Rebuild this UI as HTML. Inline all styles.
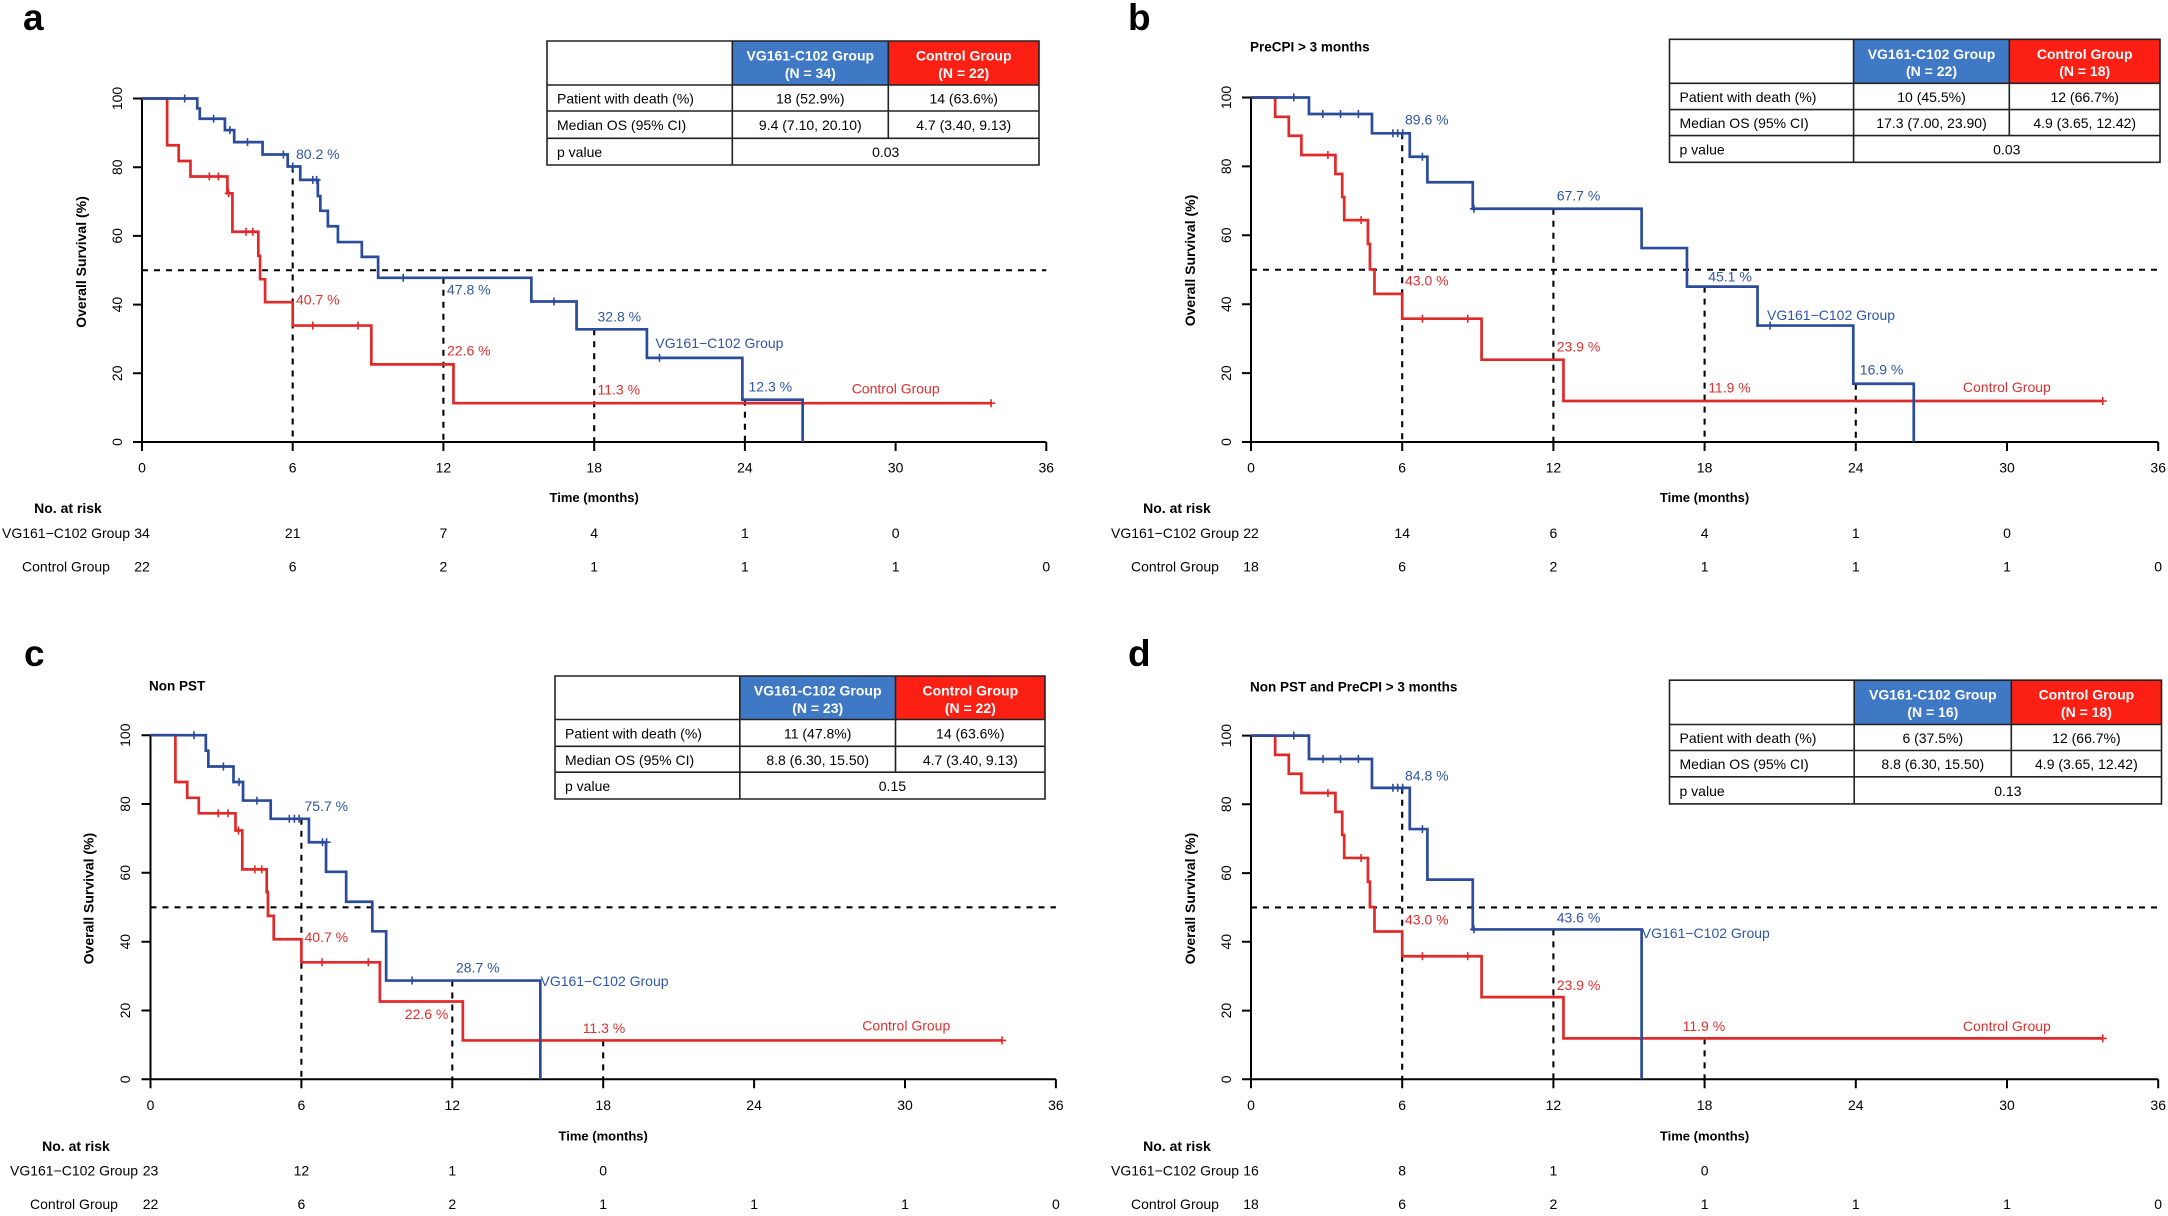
<!DOCTYPE html>
<html><head><meta charset="utf-8"><style>
html,body{margin:0;padding:0;background:#fff;}
svg{display:block}
text{font-family:"Liberation Sans",Arial,sans-serif;font-size:14px;fill:#000}
.b{font-weight:bold}
.m{text-anchor:middle}
.e{text-anchor:end}
.tb{fill:#2f56a6}
.tr{fill:#de2f2f}
.wh{fill:#fff;font-weight:bold;text-anchor:middle}
.lt{font-size:37px;font-weight:bold}
.sub{font-size:13.5px;font-weight:bold}
.ax{fill:none;stroke:#000;stroke-width:2}
.dash{fill:none;stroke:#000;stroke-width:2.1;stroke-dasharray:6 6}
.cb{fill:none;stroke:#2b4c9b;stroke-width:2.7;vector-effect:non-scaling-stroke;stroke-linejoin:miter}
.cr{fill:none;stroke:#e02a2a;stroke-width:2.7;vector-effect:non-scaling-stroke;stroke-linejoin:miter}
.kb{fill:none;stroke:#2b4c9b;stroke-width:1.6}
.kr{fill:none;stroke:#e02a2a;stroke-width:1.6}
.tl{fill:none;stroke:#222;stroke-width:1.6}
</style></head><body>
<svg width="2168" height="1216" viewBox="0 0 2168 1216" xmlns="http://www.w3.org/2000/svg">
<rect width="2168" height="1216" fill="#fff"/>

<!-- ================= PANEL A ================= -->
<text class="lt" x="23" y="30">a</text>
<path class="ax" d="M142 98.5V442H1046.3 M133 442H142 M133 373.3H142 M133 304.6H142 M133 235.9H142 M133 167.2H142 M133 98.5H142 M142 442V451 M292.7 442V451 M443.4 442V451 M594.2 442V451 M744.9 442V451 M895.6 442V451 M1046.3 442V451"/>
<text transform="translate(117 442) rotate(-90)" text-anchor="middle" dy="0.35em">0</text>
<text transform="translate(117 373.3) rotate(-90)" text-anchor="middle" dy="0.35em">20</text>
<text transform="translate(117 304.6) rotate(-90)" text-anchor="middle" dy="0.35em">40</text>
<text transform="translate(117 235.9) rotate(-90)" text-anchor="middle" dy="0.35em">60</text>
<text transform="translate(117 167.2) rotate(-90)" text-anchor="middle" dy="0.35em">80</text>
<text transform="translate(117 98.5) rotate(-90)" text-anchor="middle" dy="0.35em">100</text>
<text class="b" transform="translate(81 262) rotate(-90)" text-anchor="middle" dy="0.35em">Overall Survival (%)</text>
<text class="m" x="142" y="472.3">0</text><text class="m" x="292.7" y="472.3">6</text><text class="m" x="443.4" y="472.3">12</text><text class="m" x="594.2" y="472.3">18</text><text class="m" x="744.9" y="472.3">24</text><text class="m" x="895.6" y="472.3">30</text><text class="m" x="1046.3" y="472.3">36</text>
<text class="b m" x="594.2" y="502" style="font-size:13px">Time (months)</text>
<text class="b m" x="68" y="513">No. at risk</text>
<text class="m" x="66" y="538">VG161−C102 Group</text>
<text class="m" x="66" y="571.5">Control Group</text>
<text class="m" x="142" y="538">34</text><text class="m" x="292.7" y="538">21</text><text class="m" x="443.4" y="538">7</text><text class="m" x="594.2" y="538">4</text><text class="m" x="744.9" y="538">1</text><text class="m" x="895.6" y="538">0</text>
<text class="m" x="142" y="571.5">22</text><text class="m" x="292.7" y="571.5">6</text><text class="m" x="443.4" y="571.5">2</text><text class="m" x="594.2" y="571.5">1</text><text class="m" x="744.9" y="571.5">1</text><text class="m" x="895.6" y="571.5">1</text><text class="m" x="1046.3" y="571.5">0</text>

<path class="dash" d="M142 270.25H1046.3 M292.7 166.5V442 M443.4 277.8V442 M594.2 329.3V442 M744.9 399.7V442"/>
<g transform="translate(142 442) scale(25.12 -3.435)">
<path class="cr" d="M0 100H1.0V86.4H1.46V81.8H1.93V77.3H3.4V72.4H3.6V61.2H4.63V54.2H4.7V47.4H4.9V40.7H6.0V33.9H9.13V22.6H12.4V11.3H33.8"/>
<path class="cb" d="M0 100H2.2V97.1H2.3V94.1H3.3V90.8H3.67V87.3H4.8V83.7H5.8V80.2H6.3V76.3H7.0V71.6H7.1V67.3H7.4V62.8H7.8V58.2H8.75V53.9H9.4V47.8H15.5V40.9H17.3V32.8H20.1V24.5H23.9V12.3H26.3V0"/>
</g>
<path class="kb" d="M180.7 98.5h8M184.7 94.5v8 M209.6 118.8h8M213.6 114.8v8 M225.9 130.1h8M229.9 126.1v8 M243.5 142.1h8M247.5 138.1v8 M279.4 154.5h8M283.4 150.5v8 M288.7 166.5h8M292.7 162.5v8 M308.8 179.9h8M312.8 175.9v8 M312.6 179.9h8M316.6 175.9v8 M399.2 277.8h8M403.2 273.8v8 M550 301.5h8M554 297.5v8 M655.5 357.8h8M659.5 353.8v8"/>
<path class="kr" d="M205.3 176.5h8M209.3 172.5v8 M214.4 176.5h8M218.4 172.5v8 M224.7 193.3h8M228.7 189.3v8 M242 231.8h8M246 227.8v8 M248.8 231.8h8M252.8 227.8v8 M308.8 325.6h8M312.8 321.6v8 M354 325.6h8M358 321.6v8 M987.1 403.2h8M991.1 399.2v8"/>
<text class="tb" x="296" y="159">80.2 %</text>
<text class="tr" x="296" y="304.5">40.7 %</text>
<text class="tb" x="447" y="294.5">47.8 %</text>
<text class="tr" x="447" y="355.6">22.6 %</text>
<text class="tb" x="597.5" y="321.3">32.8 %</text>
<text class="tr" x="597.5" y="394.6">11.3 %</text>
<text class="tb" x="748.5" y="391.6">12.3 %</text>
<text class="tb" x="655.4" y="348">VG161−C102 Group</text>
<text class="tr" x="851.7" y="393.3">Control Group</text>

<!-- table a -->
<rect x="732.3" y="41" width="156" height="44" fill="#3f78c5"/>
<rect x="888.3" y="41" width="150.7" height="44" fill="#fb1f14"/>
<path class="tl" d="M547 41H1039V165H547Z M547 85H1039 M547 111H1039 M547 138.3H1039 M732.3 41V165 M888.3 41V138.3"/>
<text class="wh" x="810.3" y="60.5">VG161-C102 Group</text><text class="wh" x="810.3" y="77.8">(N = 34)</text>
<text class="wh" x="963.7" y="60.5">Control Group</text><text class="wh" x="963.7" y="77.8">(N = 22)</text>
<text x="557" y="103.5">Patient with death (%)</text><text class="m" x="810.3" y="103.5">18 (52.9%)</text><text class="m" x="963.7" y="103.5">14 (63.6%)</text>
<text x="557" y="130.2">Median OS (95% CI)</text><text class="m" x="810.3" y="130.2">9.4 (7.10, 20.10)</text><text class="m" x="963.7" y="130.2">4.7 (3.40, 9.13)</text>
<text x="557" y="157.2">p value</text><text class="m" x="885.7" y="157.2">0.03</text>

<!-- ================= PANEL B ================= -->
<text class="lt" x="1128" y="30">b</text>
<text class="sub" x="1250" y="51.5">PreCPI &gt; 3 months</text>
<path class="ax" d="M1251 97.5V442H2158.2 M1242 442H1251 M1242 373.1H1251 M1242 304.2H1251 M1242 235.3H1251 M1242 166.4H1251 M1242 97.5H1251 M1251 442V451 M1402.2 442V451 M1553.4 442V451 M1704.6 442V451 M1855.8 442V451 M2007 442V451 M2158.2 442V451"/>
<text transform="translate(1226 442) rotate(-90)" text-anchor="middle" dy="0.35em">0</text>
<text transform="translate(1226 373.1) rotate(-90)" text-anchor="middle" dy="0.35em">20</text>
<text transform="translate(1226 304.2) rotate(-90)" text-anchor="middle" dy="0.35em">40</text>
<text transform="translate(1226 235.3) rotate(-90)" text-anchor="middle" dy="0.35em">60</text>
<text transform="translate(1226 166.4) rotate(-90)" text-anchor="middle" dy="0.35em">80</text>
<text transform="translate(1226 97.5) rotate(-90)" text-anchor="middle" dy="0.35em">100</text>
<text class="b" transform="translate(1190 260.5) rotate(-90)" text-anchor="middle" dy="0.35em">Overall Survival (%)</text>
<text class="m" x="1251" y="472.3">0</text><text class="m" x="1402.2" y="472.3">6</text><text class="m" x="1553.4" y="472.3">12</text><text class="m" x="1704.6" y="472.3">18</text><text class="m" x="1855.8" y="472.3">24</text><text class="m" x="2007" y="472.3">30</text><text class="m" x="2158.2" y="472.3">36</text>
<text class="b m" x="1704.6" y="502" style="font-size:13px">Time (months)</text>
<text class="b m" x="1177" y="513">No. at risk</text>
<text class="m" x="1175" y="538">VG161−C102 Group</text>
<text class="m" x="1175" y="571.5">Control Group</text>
<text class="m" x="1251" y="538">22</text><text class="m" x="1402.2" y="538">14</text><text class="m" x="1553.4" y="538">6</text><text class="m" x="1704.6" y="538">4</text><text class="m" x="1855.8" y="538">1</text><text class="m" x="2007" y="538">0</text>
<text class="m" x="1251" y="571.5">18</text><text class="m" x="1402.2" y="571.5">6</text><text class="m" x="1553.4" y="571.5">2</text><text class="m" x="1704.6" y="571.5">1</text><text class="m" x="1855.8" y="571.5">1</text><text class="m" x="2007" y="571.5">1</text><text class="m" x="2158.2" y="571.5">0</text>

<path class="dash" d="M1251 269.75H2158.2 M1402.2 133.3V442 M1553.4 208.8V442 M1704.6 286.6V442 M1855.8 383.8V442"/>
<g transform="translate(1251 442) scale(25.2 -3.445)">
<path class="cr" d="M0 100H0.96V94.4H1.5V88.9H2.0V83.3H3.35V77.8H3.62V71.1H3.7V64.4H4.64V57.5H4.72V50.1H4.9V43.0H6.0V35.8H9.15V23.9H12.4V11.9H33.8"/>
<path class="cb" d="M0 100H2.3V95.2H4.8V89.6H6.3V82.8H7.0V75.4H8.8V67.7H15.5V56.3H17.3V45.1H20.1V33.8H23.9V16.9H26.3V0"/>
</g>
<path class="kb" d="M1289.8 97.5h8M1293.8 93.5v8 M1318.8 114h8M1322.8 110v8 M1336.5 114h8M1340.5 110v8 M1354.4 114h8M1358.4 110v8 M1388.9 133.3h8M1392.9 129.3v8 M1393.7 133.3h8M1397.7 129.3v8 M1398.7 133.3h8M1402.7 129.3v8 M1418.4 156.8h8M1422.4 152.8v8 M1470 208.8h8M1474 204.8v8 M1766.1 325.6h8M1770.1 321.6v8"/>
<path class="kr" d="M1323.9 155h8M1327.9 151v8 M1357.1 220.1h8M1361.1 216.1v8 M1418.4 318.7h8M1422.4 314.7v8 M1463.7 318.7h8M1467.7 314.7v8 M2098.8 401h8M2102.8 397v8"/>
<text class="tb" x="1405" y="124.6">89.6 %</text>
<text class="tr" x="1405" y="285.7">43.0 %</text>
<text class="tb" x="1556.7" y="200.6">67.7 %</text>
<text class="tr" x="1556.7" y="351.4">23.9 %</text>
<text class="tb" x="1708.2" y="281.5">45.1 %</text>
<text class="tr" x="1708.2" y="392.7">11.9 %</text>
<text class="tb" x="1767" y="320">VG161−C102 Group</text>
<text class="tb" x="1859.8" y="374.7">16.9 %</text>
<text class="tr" x="1962.9" y="392">Control Group</text>

<!-- table b -->
<rect x="1853.6" y="39.3" width="155.7" height="44" fill="#3f78c5"/>
<rect x="2009.3" y="39.3" width="150.7" height="44" fill="#fb1f14"/>
<path class="tl" d="M1669.5 39.3H2160V162.3H1669.5Z M1669.5 83.3H2160 M1669.5 109.6H2160 M1669.5 135.6H2160 M1853.6 39.3V162.3 M2009.3 39.3V135.6"/>
<text class="wh" x="1931.5" y="58.8">VG161-C102 Group</text><text class="wh" x="1931.5" y="76.1">(N = 22)</text>
<text class="wh" x="2084.7" y="58.8">Control Group</text><text class="wh" x="2084.7" y="76.1">(N = 18)</text>
<text x="1679.5" y="102">Patient with death (%)</text><text class="m" x="1931.5" y="102">10 (45.5%)</text><text class="m" x="2084.7" y="102">12 (66.7%)</text>
<text x="1679.5" y="128.1">Median OS (95% CI)</text><text class="m" x="1931.5" y="128.1">17.3 (7.00, 23.90)</text><text class="m" x="2084.7" y="128.1">4.9 (3.65, 12.42)</text>
<text x="1679.5" y="154.5">p value</text><text class="m" x="2006.8" y="154.5">0.03</text>

<!-- ================= PANEL C ================= -->
<text class="lt" x="24" y="666">c</text>
<text class="sub" x="149" y="690.5">Non PST</text>
<path class="ax" d="M150.5 735.2V1079.3H1055.9 M141.5 1079.3H150.5 M141.5 1010.5H150.5 M141.5 941.7H150.5 M141.5 872.8H150.5 M141.5 804H150.5 M141.5 735.2H150.5 M150.5 1079.3V1088.3 M301.4 1079.3V1088.3 M452.3 1079.3V1088.3 M603.2 1079.3V1088.3 M754.1 1079.3V1088.3 M905 1079.3V1088.3 M1055.9 1079.3V1088.3"/>
<text transform="translate(125.3 1079.3) rotate(-90)" text-anchor="middle" dy="0.35em">0</text>
<text transform="translate(125.3 1010.5) rotate(-90)" text-anchor="middle" dy="0.35em">20</text>
<text transform="translate(125.3 941.7) rotate(-90)" text-anchor="middle" dy="0.35em">40</text>
<text transform="translate(125.3 872.8) rotate(-90)" text-anchor="middle" dy="0.35em">60</text>
<text transform="translate(125.3 804) rotate(-90)" text-anchor="middle" dy="0.35em">80</text>
<text transform="translate(125.3 735.2) rotate(-90)" text-anchor="middle" dy="0.35em">100</text>
<text class="b" transform="translate(88.6 898.6) rotate(-90)" text-anchor="middle" dy="0.35em">Overall Survival (%)</text>
<text class="m" x="150.5" y="1109.9">0</text><text class="m" x="301.4" y="1109.9">6</text><text class="m" x="452.3" y="1109.9">12</text><text class="m" x="603.2" y="1109.9">18</text><text class="m" x="754.1" y="1109.9">24</text><text class="m" x="905" y="1109.9">30</text><text class="m" x="1055.9" y="1109.9">36</text>
<text class="b m" x="603.2" y="1140.5" style="font-size:13px">Time (months)</text>
<text class="b m" x="76" y="1151">No. at risk</text>
<text class="m" x="74" y="1175.6">VG161−C102 Group</text>
<text class="m" x="74" y="1209.2">Control Group</text>
<text class="m" x="150.5" y="1175.6">23</text><text class="m" x="301.4" y="1175.6">12</text><text class="m" x="452.3" y="1175.6">1</text><text class="m" x="603.2" y="1175.6">0</text>
<text class="m" x="150.5" y="1209.2">22</text><text class="m" x="301.4" y="1209.2">6</text><text class="m" x="452.3" y="1209.2">2</text><text class="m" x="603.2" y="1209.2">1</text><text class="m" x="754.1" y="1209.2">1</text><text class="m" x="905" y="1209.2">1</text><text class="m" x="1055.9" y="1209.2">0</text>

<path class="dash" d="M150.5 907.3H1055.9 M301.4 818.8V1079.3 M452.3 980.5V1079.3 M603.2 1040.4V1079.3"/>
<g transform="translate(150.5 1079.3) scale(25.15 -3.441)">
<path class="cr" d="M0 100H0.99V86.4H1.46V81.8H1.92V77.3H3.38V72.3H3.65V61.0H4.62V54.4H4.67V47.5H4.9V40.7H6.0V34.0H9.12V22.6H12.42V11.3H33.86"/>
<path class="cb" d="M0 100H2.2V95.5H2.3V90.9H3.3V86.4H3.68V81.0H4.78V75.7H6.3V68.9H6.98V60.3H7.78V51.6H8.82V43.0H9.37V28.7H15.5V0"/>
</g>
<path class="kb" d="M190 735.2h8M194 731.2v8 M219.4 766.5h8M223.4 762.5v8 M235 782h8M239 778v8 M252.9 800.6h8M256.9 796.6v8 M285.3 818.8h8M289.3 814.8v8 M290.4 818.8h8M294.4 814.8v8 M295.1 818.8h8M299.1 814.8v8 M318.5 842.2h8M322.5 838.2v8 M322.6 842.2h8M326.6 838.2v8 M408.1 980.5h8M412.1 976.5v8"/>
<path class="kr" d="M214.2 813.3h8M218.2 809.3v8 M224 813.3h8M228 809.3v8 M234.5 830.5h8M238.5 826.5v8 M250.9 869.4h8M254.9 865.4v8 M257.7 869.4h8M261.7 865.4v8 M318 962.3h8M322 958.3v8 M364.3 962.3h8M368.3 958.3v8 M998.1 1040.4h8M1002.1 1036.4v8"/>
<text class="tb" x="304.5" y="810.8">75.7 %</text>
<text class="tr" x="304.5" y="941.9">40.7 %</text>
<text class="tb" x="456" y="972.4">28.7 %</text>
<text class="tb" x="540.5" y="985.8">VG161−C102 Group</text>
<text class="tr e" x="448.4" y="1019">22.6 %</text>
<text class="tr" x="582.7" y="1032.8">11.3 %</text>
<text class="tr" x="862.3" y="1030.5">Control Group</text>

<!-- table c -->
<rect x="739.8" y="676" width="155.7" height="43.5" fill="#3f78c5"/>
<rect x="895.5" y="676" width="149.5" height="43.5" fill="#fb1f14"/>
<path class="tl" d="M555 676H1045V799H555Z M555 719.5H1045 M555 746.3H1045 M555 772.2H1045 M739.8 676V799 M895.5 676V772.2"/>
<text class="wh" x="817.7" y="695.5">VG161-C102 Group</text><text class="wh" x="817.7" y="712.8">(N = 23)</text>
<text class="wh" x="970.3" y="695.5">Control Group</text><text class="wh" x="970.3" y="712.8">(N = 22)</text>
<text x="565" y="738.4">Patient with death (%)</text><text class="m" x="817.7" y="738.4">11 (47.8%)</text><text class="m" x="970.3" y="738.4">14 (63.6%)</text>
<text x="565" y="764.8">Median OS (95% CI)</text><text class="m" x="817.7" y="764.8">8.8 (6.30, 15.50)</text><text class="m" x="970.3" y="764.8">4.7 (3.40, 9.13)</text>
<text x="565" y="791.1">p value</text><text class="m" x="892.4" y="791.1">0.15</text>

<!-- ================= PANEL D ================= -->
<text class="lt" x="1128" y="666">d</text>
<text class="sub" x="1250" y="691.5">Non PST and PreCPI &gt; 3 months</text>
<path class="ax" d="M1251 735.6V1079.3H2158.2 M1242 1079.3H1251 M1242 1010.6H1251 M1242 941.8H1251 M1242 873.1H1251 M1242 804.3H1251 M1242 735.6H1251 M1251 1079.3V1088.3 M1402.2 1079.3V1088.3 M1553.4 1079.3V1088.3 M1704.6 1079.3V1088.3 M1855.8 1079.3V1088.3 M2007 1079.3V1088.3 M2158.2 1079.3V1088.3"/>
<text transform="translate(1226 1079.3) rotate(-90)" text-anchor="middle" dy="0.35em">0</text>
<text transform="translate(1226 1010.6) rotate(-90)" text-anchor="middle" dy="0.35em">20</text>
<text transform="translate(1226 941.8) rotate(-90)" text-anchor="middle" dy="0.35em">40</text>
<text transform="translate(1226 873.1) rotate(-90)" text-anchor="middle" dy="0.35em">60</text>
<text transform="translate(1226 804.3) rotate(-90)" text-anchor="middle" dy="0.35em">80</text>
<text transform="translate(1226 735.6) rotate(-90)" text-anchor="middle" dy="0.35em">100</text>
<text class="b" transform="translate(1190 898.6) rotate(-90)" text-anchor="middle" dy="0.35em">Overall Survival (%)</text>
<text class="m" x="1251" y="1109.9">0</text><text class="m" x="1402.2" y="1109.9">6</text><text class="m" x="1553.4" y="1109.9">12</text><text class="m" x="1704.6" y="1109.9">18</text><text class="m" x="1855.8" y="1109.9">24</text><text class="m" x="2007" y="1109.9">30</text><text class="m" x="2158.2" y="1109.9">36</text>
<text class="b m" x="1704.6" y="1140.5" style="font-size:13px">Time (months)</text>
<text class="b m" x="1177" y="1151">No. at risk</text>
<text class="m" x="1175" y="1175.6">VG161−C102 Group</text>
<text class="m" x="1175" y="1209.2">Control Group</text>
<text class="m" x="1251" y="1175.6">16</text><text class="m" x="1402.2" y="1175.6">8</text><text class="m" x="1553.4" y="1175.6">1</text><text class="m" x="1704.6" y="1175.6">0</text>
<text class="m" x="1251" y="1209.2">18</text><text class="m" x="1402.2" y="1209.2">6</text><text class="m" x="1553.4" y="1209.2">2</text><text class="m" x="1704.6" y="1209.2">1</text><text class="m" x="1855.8" y="1209.2">1</text><text class="m" x="2007" y="1209.2">1</text><text class="m" x="2158.2" y="1209.2">0</text>

<path class="dash" d="M1251 907.45H2158.2 M1402.2 787.8V1079.3 M1553.4 929.4V1079.3 M1704.6 1038.4V1079.3"/>
<g transform="translate(1251 1079.3) scale(25.2 -3.437)">
<path class="cr" d="M0 100H0.96V94.4H1.5V88.9H2.0V83.3H3.35V77.8H3.62V71.1H3.7V64.4H4.64V57.5H4.72V50.1H4.9V43.0H6.0V35.8H9.15V23.9H12.4V11.9H33.8"/>
<path class="cb" d="M0 100H2.3V93.2H4.8V84.8H6.3V72.8H7.0V58.1H8.8V43.6H15.5V0"/>
</g>
<path class="kb" d="M1289.8 735.6h8M1293.8 731.6v8 M1319.1 759h8M1323.1 755v8 M1336.5 759h8M1340.5 755v8 M1354.4 759h8M1358.4 755v8 M1388.9 787.8h8M1392.9 783.8v8 M1393.7 787.8h8M1397.7 783.8v8 M1398.7 787.8h8M1402.7 783.8v8 M1418.4 829.1h8M1422.4 825.1v8 M1470 929.4h8M1474 925.4v8"/>
<path class="kr" d="M1323.9 793h8M1327.9 789v8 M1357.1 858h8M1361.1 854v8 M1418.4 956.3h8M1422.4 952.3v8 M1463.7 956.3h8M1467.7 952.3v8 M2098.8 1038.4h8M2102.8 1034.4v8"/>
<text class="tb" x="1405" y="780.3">84.8 %</text>
<text class="tr" x="1405" y="924.7">43.0 %</text>
<text class="tb" x="1556.7" y="922.4">43.6 %</text>
<text class="tb" x="1641.8" y="938">VG161−C102 Group</text>
<text class="tr" x="1556.7" y="990">23.9 %</text>
<text class="tr" x="1682.6" y="1030.9">11.9 %</text>
<text class="tr" x="1962.9" y="1030.9">Control Group</text>

<!-- table d -->
<rect x="1854.2" y="680.2" width="157.1" height="44.3" fill="#3f78c5"/>
<rect x="2011.3" y="680.2" width="150.2" height="44.3" fill="#fb1f14"/>
<path class="tl" d="M1669.5 680.2H2161.5V803.9H1669.5Z M1669.5 724.5H2161.5 M1669.5 750.5H2161.5 M1669.5 776.8H2161.5 M1854.2 680.2V803.9 M2011.3 680.2V776.8"/>
<text class="wh" x="1932.8" y="699.7">VG161-C102 Group</text><text class="wh" x="1932.8" y="717">(N = 16)</text>
<text class="wh" x="2086.4" y="699.7">Control Group</text><text class="wh" x="2086.4" y="717">(N = 18)</text>
<text x="1679.5" y="743">Patient with death (%)</text><text class="m" x="1932.8" y="743">6 (37.5%)</text><text class="m" x="2086.4" y="743">12 (66.7%)</text>
<text x="1679.5" y="769.2">Median OS (95% CI)</text><text class="m" x="1932.8" y="769.2">8.8 (6.30, 15.50)</text><text class="m" x="2086.4" y="769.2">4.9 (3.65, 12.42)</text>
<text x="1679.5" y="795.9">p value</text><text class="m" x="2007.9" y="795.9">0.13</text>

</svg>
</body></html>
